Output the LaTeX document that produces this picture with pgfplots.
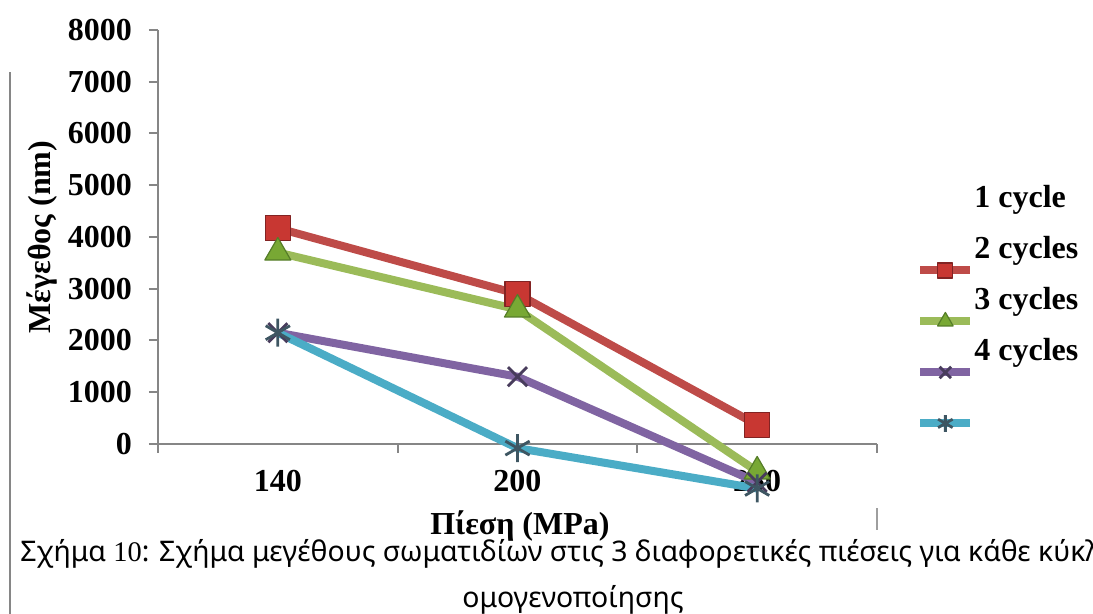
\documentclass[border=0pt]{standalone}
\usepackage{pgfplots}
\pgfplotsset{compat=1.18}
\usepackage{fontspec}
\setmainfont{Liberation Serif}
\newfontfamily\capfont{Noto Sans}

\definecolor{axisgray}{RGB}{134,134,134}
\definecolor{lred}{RGB}{190,75,72}
\definecolor{lgreen}{RGB}{155,187,89}
\definecolor{lpurple}{RGB}{128,100,162}
\definecolor{lcyan}{RGB}{75,172,198}
\definecolor{mred}{RGB}{200,55,50}
\definecolor{mredd}{RGB}{130,35,35}
\definecolor{mgreen}{RGB}{120,168,52}
\definecolor{mgreend}{RGB}{85,125,40}
\definecolor{mpurple}{RGB}{72,60,92}
\definecolor{mcyan}{RGB}{62,86,98}

\newcommand\lblfont{\fontsize{16}{19}\selectfont\bfseries}
\newcommand\capsize{\fontsize{14.2}{17}\selectfont}

\begin{document}
\begin{tikzpicture}[x=1pt,y=1pt]
\path[use as bounding box] (0,0) rectangle (546.5,307);
\begin{axis}[
  at={(79pt,85pt)}, anchor=south west,
  scale only axis, width=359.5pt, height=207pt,
  xmin=-0.5, xmax=2.5, ymin=0, ymax=8000,
  clip=false,
  axis x line=bottom, axis y line=left,
  axis line style={-, axisgray, line width=1pt},
  tick style={axisgray, line width=1pt},
  major tick length=4.5pt, tick align=outside,
  xtick={-0.5,0.5,1.5,2.5}, xticklabels={},
  extra x ticks={0,1,2}, extra x tick labels={140,200,250},
  extra x tick style={major tick length=0pt, xticklabel style={yshift=-9.5pt}},
  ytick={0,1000,...,8000},
  yticklabels={0,1000,2000,3000,4000,5000,6000,7000,8000},
  yticklabel style={xshift=-5pt},
  tick label style={font=\lblfont},
  ylabel={Μέγεθος (nm)}, xlabel={Πίεση (MPa)},
  every axis y label/.style={at={(axis description cs:-0.1613,0.5)}, rotate=90, anchor=center, font=\lblfont},
  every axis x label/.style={at={(axis description cs:0.5035,-0.198)}, anchor=center, font=\lblfont},
  every axis plot/.append style={line width=4pt, line join=round},
  legend style={at={(axis description cs:1.0542,0.6304)}, anchor=north west,
    draw=none, fill=none, inner sep=0pt, row sep=9.5pt, column sep=0pt,
    nodes={inner sep=0pt, text height=12pt, text depth=4pt, font=\lblfont},
    cells={anchor=west}},
  legend image code/.code={
    \path (0pt,0pt) (25pt,0pt);
    \draw[overlay,#1,mark repeat=2,mark phase=2,yshift=-10pt,every mark/.append style={scale=0.6}]
      plot coordinates {(0pt,0pt) (12.5pt,0pt) (25pt,0pt)};},
]
\addlegendimage{empty legend}
\addlegendentry{1 cycle}
\addplot[lred, mark=square*, mark size=6.25pt,
  mark options={fill=mred, draw=mredd, line width=0.6pt}]
  coordinates {(0,4170) (1,2900) (2,370)};
\addlegendentry{2 cycles}
\addplot[lgreen, mark=triangle*, mark size=7.5pt,
  mark options={fill=mgreen, draw=mgreend, line width=0.6pt}]
  coordinates {(0,3700) (1,2600) (2,-530)};
\addlegendentry{3 cycles}
\addplot[lpurple, mark=x, mark size=6.75pt,
  mark options={draw=mpurple, line width=1.4pt}]
  coordinates {(0,2150) (1,1300) (2,-740)};
\addlegendentry{4 cycles}
\addplot[lcyan, mark=asterisk, mark size=7pt,
  mark options={draw=mcyan, line width=1.4pt}]
  coordinates {(0,2150) (1,-80) (2,-860)};
\addlegendentry{}
\end{axis}
% page frame fragments
\draw[axisgray, line width=1pt] (5,0) -- (5,271);
\draw[axisgray!80, line width=1pt] (438.5,42) -- (438.5,53);
% caption
\node[anchor=base west, inner sep=0pt, font=\capfont\capsize] at (10,26)
  {Σχήμα {\rmfamily 10}: Σχήμα μεγέθους σωματιδίων στις 3 διαφορετικές πιέσεις για κάθε κύκλο};
\node[anchor=base, inner sep=0pt, font=\capfont\capsize] at (286.5,3)
  {ομογενοποίησης};
\end{tikzpicture}
\end{document}
